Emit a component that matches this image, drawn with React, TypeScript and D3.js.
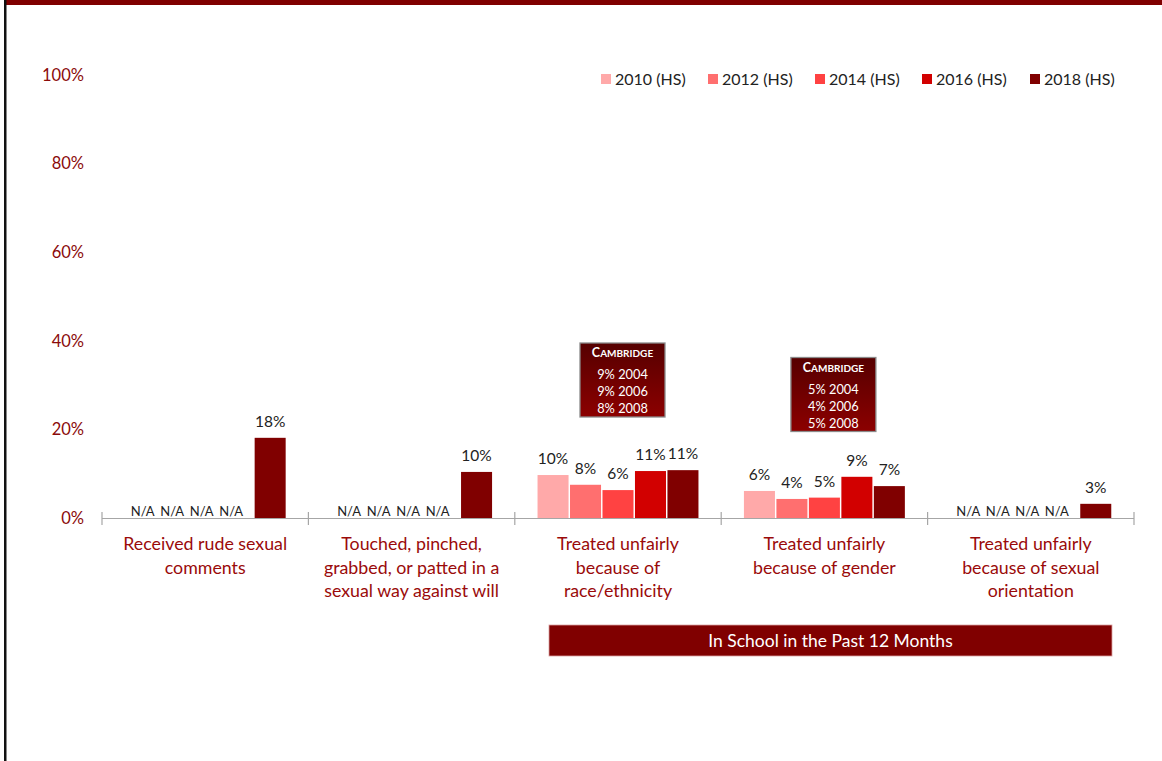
import React from "react";
import * as d3 from "d3";

const categories = [
  ["Received rude sexual", "comments"],
  ["Touched, pinched,", "grabbed, or patted in a", "sexual way against will"],
  ["Treated unfairly", "because of", "race/ethnicity"],
  ["Treated unfairly", "because of gender"],
  ["Treated unfairly", "because of sexual", "orientation"],
];
const seriesNames = ["2010 (HS)", "2012 (HS)", "2014 (HS)", "2016 (HS)", "2018 (HS)"];
const seriesColors = ["#FFA9A9", "#FF6F6F", "#FF4242", "#D20000", "#800000"];
const values2010: (number | null)[] = [null, null, 9.7, 6.1, null];
const values2012: (number | null)[] = [null, null, 7.5, 4.3, null];
const values2014: (number | null)[] = [null, null, 6.3, 4.6, null];
const values2016: (number | null)[] = [null, null, 10.6, 9.3, null];
const values2018: (number | null)[] = [18.1, 10.4, 10.8, 7.2, 3.2];
const allValues = [values2010, values2012, values2014, values2016, values2018];
const yTicks = [0, 20, 40, 60, 80, 100];
const cambridgeNotes = [
  { cat: 2, lines: ["9% 2004", "9% 2006", "8% 2008"] },
  { cat: 3, lines: ["5% 2004", "4% 2006", "5% 2008"] },
];
const bannerText = "In School in the Past 12 Months";

const FONT = "Lato, 'Open Sans', sans-serif";

export default function App() {
  const W = 1162, H = 761;
  const catIdx = categories.map((_, i) => String(i));
  const x0 = d3.scaleBand<string>().domain(catIdx).range([102, 1134]).padding(0);
  const x1 = d3
    .scaleBand<string>()
    .domain(seriesNames)
    .range([0, x0.bandwidth()])
    .paddingInner(0.045)
    .paddingOuter(0.7);
  const y = d3.scaleLinear().domain([0, 100]).range([518, 75]);
  const boundaries = d3.range(categories.length + 1).map((i) =>
    i < categories.length ? (x0(String(i)) as number) : 1134
  );

  const legendX = [601, 708, 815, 922, 1030];

  return (
    <svg
      width={W}
      height={H}
      style={{ position: "absolute", left: 0, top: 0, display: "block" }}
      fontFamily={FONT}
    >
      <defs>
        <linearGradient id="boxGrad" x1="0" y1="0" x2="0" y2="1">
          <stop offset="0%" stopColor="#560000" />
          <stop offset="100%" stopColor="#8C0000" />
        </linearGradient>
      </defs>
      <rect x={0} y={0} width={W} height={H} fill="#fff" />
      <rect x={5} y={0} width={W - 5} height={5} fill="#800000" />
      <rect x={4} y={0} width={2.5} height={H} fill="#111" />

      {/* y tick labels */}
      {yTicks.map((t) => (
        <text
          key={t}
          x={84}
          y={y(t)}
          dy="0.35em"
          textAnchor="end"
          fontSize={16.5}
          fill="#8B0A0A"
        >
          {t}%
        </text>
      ))}

      {/* bars */}
      {allValues.map((vals, si) =>
        vals.map((v, ci) => {
          if (v == null) return null;
          const bx = (x0(String(ci)) as number) + (x1(seriesNames[si]) as number);
          return (
            <rect
              key={`b${si}-${ci}`}
              x={bx}
              y={y(v)}
              width={x1.bandwidth()}
              height={y(0) - y(v)}
              fill={seriesColors[si]}
            />
          );
        })
      )}

      {/* axis */}
      <line x1={102} x2={1134} y1={518.5} y2={518.5} stroke="#A6A6A6" strokeWidth={1.2} />
      {boundaries.map((bx, i) => (
        <line key={i} x1={bx} x2={bx} y1={512} y2={525} stroke="#A6A6A6" strokeWidth={1.2} />
      ))}

      {/* value labels */}
      {allValues.map((vals, si) =>
        vals.map((v, ci) => {
          const catX = x0(String(ci)) as number;
          const cx = catX + (x1(seriesNames[si]) as number) + x1.bandwidth() / 2;
          if (v == null) {
            const c0 = catX + (x1(seriesNames[0]) as number) + x1.bandwidth() / 2;
            const c3 = catX + (x1(seriesNames[3]) as number) + x1.bandwidth() / 2;
            const mid = (c0 + c3) / 2;
            return (
              <text
                key={`l${si}-${ci}`}
                x={mid + (si - 1.5) * 29.5 - 2}
                y={516}
                textAnchor="middle"
                fontSize={13}
                fill="#222"
              >
                N/A
              </text>
            );
          }
          return (
            <text
              key={`l${si}-${ci}`}
              x={cx}
              y={y(v) - 11}
              textAnchor="middle"
              fontSize={15.5}
              fill="#222"
            >
              {Math.round(v)}%
            </text>
          );
        })
      )}

      {/* category labels */}
      {categories.map((lines, ci) => (
        <text
          key={`c${ci}`}
          x={(x0(String(ci)) as number) + x0.bandwidth() / 2}
          y={550}
          textAnchor="middle"
          fontSize={17.8}
          fill="#9A0A0A"
        >
          {lines.map((ln, li) => (
            <tspan key={li} x={(x0(String(ci)) as number) + x0.bandwidth() / 2} dy={li === 0 ? 0 : 23.5}>
              {ln}
            </tspan>
          ))}
        </text>
      ))}

      {/* legend */}
      {seriesNames.map((s, i) => (
        <g key={s}>
          <rect x={legendX[i]} y={74} width={10} height={10} fill={seriesColors[i]} />
          <text x={legendX[i] + 14} y={79} dy="0.35em" fontSize={16} fill="#222">
            {s}
          </text>
        </g>
      ))}

      {/* Cambridge boxes */}
      {cambridgeNotes.map((n, i) => {
        const cx = (x0(String(n.cat)) as number) + x0.bandwidth() / 2 + (i === 0 ? 4.5 : 9);
        const top = i === 0 ? 343 : 357.5;
        const w = 85, h = 74;
        return (
          <g key={`cb${i}`}>
            <rect x={cx - w / 2} y={top} width={w} height={h} fill="url(#boxGrad)" stroke="#8a8a8a" strokeWidth={1.3} />
            <text x={cx} y={top + 14} textAnchor="middle" fontSize={12.5} fontWeight="bold" fill="#fff">
              C<tspan fontSize={10}>AMBRIDGE</tspan>
            </text>
            {n.lines.map((ln, li) => (
              <text key={li} x={cx} y={top + 36 + li * 17} textAnchor="middle" fontSize={12.8} fill="#fff">
                {ln}
              </text>
            ))}
          </g>
        );
      })}

      {/* banner */}
      <rect x={549} y={625} width={563} height={31} fill="#800000" stroke="#d9a0a0" strokeWidth={0.8} />
      <text x={549 + 563 / 2} y={641} dy="0.35em" textAnchor="middle" fontSize={17.5} fill="#fff">
        {bannerText}
      </text>
    </svg>
  );
}
